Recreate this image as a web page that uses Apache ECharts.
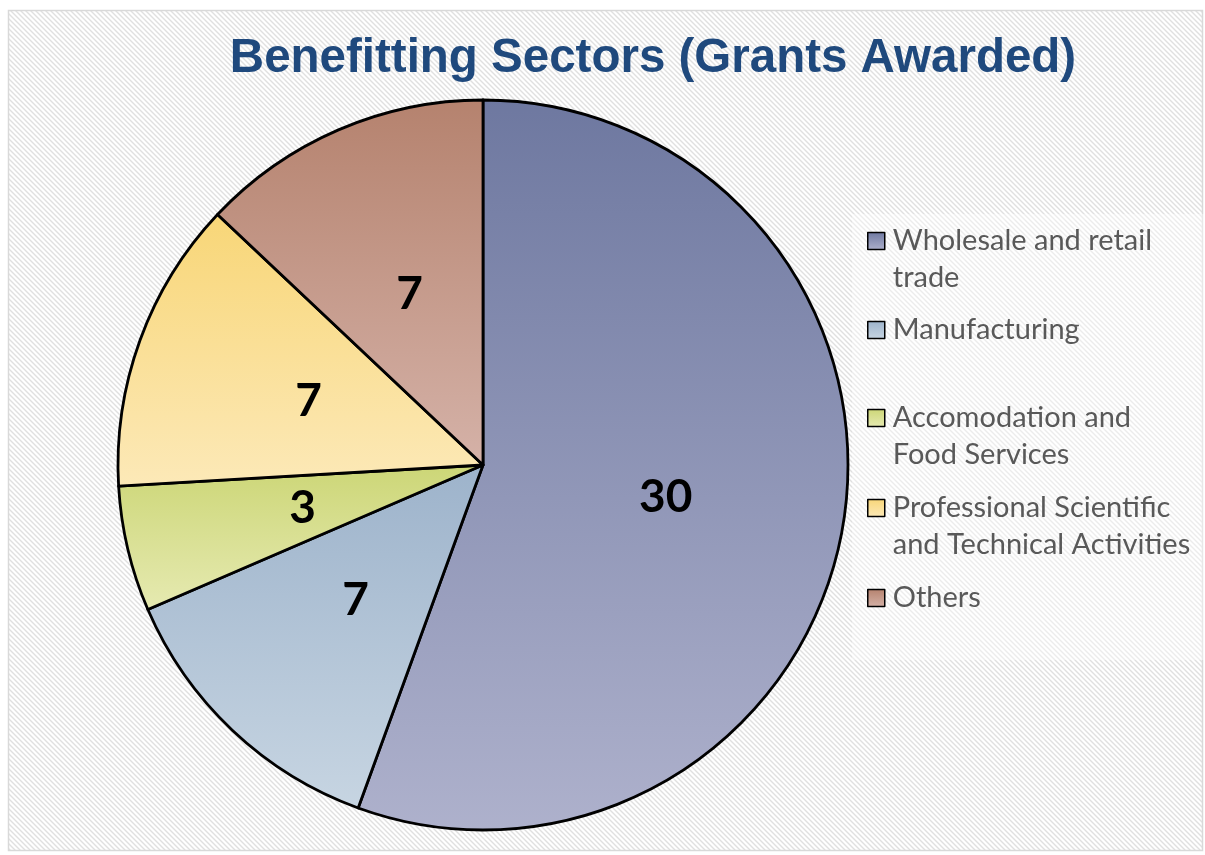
<!DOCTYPE html>
<html>
<head>
<meta charset="utf-8">
<title>Benefitting Sectors</title>
<script src="https://cdn.jsdelivr.net/npm/echarts@6/dist/echarts.min.js"></script>
<style>
  html, body { margin: 0; padding: 0; background: #fff; }
  #chart { width: 1205px; height: 855px; }
</style>
</head>
<body>
<div id="chart"></div>
<script>
const sectors = [
  'Wholesale and retail\ntrade',
  'Manufacturing',
  'Accomodation and\nFood Services',
  'Professional Scientific\nand Technical Activities',
  'Others'
];
const grants = [30, 7, 3, 7, 7];

// gradient stops (top -> bottom) for each slice
const topColors = ['#6e78a0', '#9db3cb', '#ccd676', '#f8d677', '#b5826e'];
const bottomColors = ['#aeb1cc', '#c7d5e2', '#e6eab2', '#fce9b8', '#d5b2a8'];

// y of each legend icon centre
const legendRows = [241, 330, 418, 508, 598];
const lineH = 37;

function hatch() {
  const c = document.createElement('canvas');
  c.width = 5; c.height = 5;
  const g = c.getContext('2d');
  g.fillStyle = '#ffffff';
  g.fillRect(0, 0, 5, 5);
  g.strokeStyle = '#e0e0e0';
  g.lineWidth = 1.4;
  g.beginPath();
  g.moveTo(-1, -1); g.lineTo(6, 6);
  g.moveTo(-6, -1); g.lineTo(1, 6);
  g.moveTo(4, -1); g.lineTo(11, 6);
  g.stroke();
  return c;
}

function grad(i) {
  return new echarts.graphic.LinearGradient(0, 0, 0, 1, [
    { offset: 0, color: topColors[i] },
    { offset: 1, color: bottomColors[i] }
  ]);
}

const chart = echarts.init(document.getElementById('chart'));

// one legend per item so the rows can sit like the original;
// two-line names get an empty first line so line one lines up with the icon
const legends = sectors.map((name, i) => {
  const twoLines = name.indexOf('\n') >= 0;
  return {
    data: [name],
    orient: 'vertical',
    left: 867,
    top: legendRows[i] - (twoLines ? lineH * 1.5 : lineH / 2),
    padding: 0,
    icon: 'rect',
    itemWidth: 17,
    itemHeight: 17,
    itemGap: 0,
    selectedMode: false,
    formatter: n => (n.indexOf('\n') >= 0 ? '\n' + n : n),
    itemStyle: { borderColor: '#000', borderWidth: 1.5 },
    textStyle: {
      fontFamily: 'Lato',
      fontSize: 29,
      color: '#595959',
      lineHeight: lineH,
      padding: [0, 0, 0, 3]
    }
  };
});

chart.setOption({
  animation: false,
  graphic: [
    {
      type: 'rect',
      z: -10,
      shape: { x: 8.5, y: 10.5, width: 1194, height: 840 },
      style: { fill: { image: hatch(), repeat: 'repeat' }, stroke: '#d9d9d9', lineWidth: 1.5 }
    },
    {
      type: 'rect',
      z: -9,
      shape: { x: 852, y: 214, width: 352, height: 446 },
      style: { fill: 'rgba(255,255,255,0.4)' }
    }
  ],
  title: {
    text: 'Benefitting Sectors (Grants Awarded)',
    left: 648,
    textAlign: 'center',
    top: 30,
    textStyle: {
      fontFamily: 'Liberation Sans',
      fontWeight: 'bold',
      fontSize: 47.5,
      color: '#1f497d'
    }
  },
  legend: legends,
  series: [{
    type: 'pie',
    center: [483, 465],
    radius: 365,
    startAngle: 90,
    clockwise: true,
    data: sectors.map((name, i) => ({
      name: name,
      value: grants[i],
      itemStyle: { color: grad(i) }
    })),
    itemStyle: { borderColor: '#000', borderWidth: 2.8 },
    label: {
      show: true,
      position: 'inside',
      formatter: '{c}',
      fontFamily: 'Lato',
      fontWeight: 'bold',
      fontSize: 46,
      color: '#000'
    },
    labelLine: { show: false },
    emphasis: { disabled: true }
  }]
});
</script>
</body>
</html>
